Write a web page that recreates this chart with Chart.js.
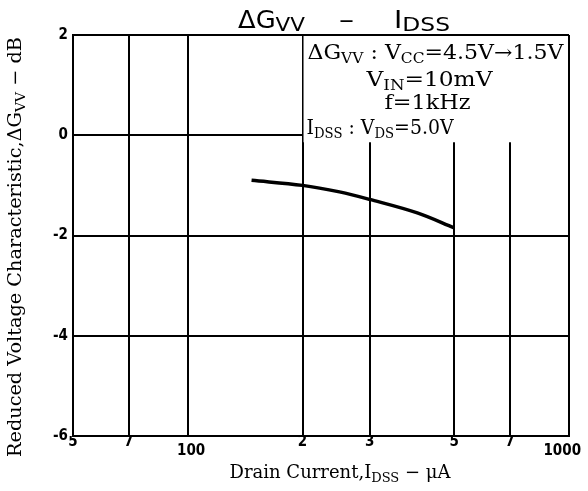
<!DOCTYPE html>
<html><head><meta charset="utf-8">
<script src="https://cdn.jsdelivr.net/npm/chart.js@4.4.1/dist/chart.umd.min.js"></script>
<style>html,body{margin:0;padding:0;background:#fff}canvas{display:block}</style>
</head><body>
<canvas id="c" width="588" height="491"></canvas>
<script>
// ---- data ----
const drainCurrentUA = [147, 200, 250, 300, 400, 500];
const deltaGvvDB     = [-0.9, -1.0, -1.13, -1.28, -1.55, -1.85];
const xTickValues    = [50, 70, 100, 200, 300, 500, 700, 1000];
const xTickLabels    = ['5', '7', '\u2002100', '2', '3', '5', '7', '1000\u2003'];
const xLoweredTicks  = [100, 1000];
const yMin = -6, yMax = 2, yStep = 2;

const SERIF = "'DejaVu Serif','Liberation Serif',serif";
const SANS = "'DejaVu Sans','Liberation Sans',sans-serif";
const TICKFONT = "'Liberation Sans Narrow','DejaVu Sans Condensed','Liberation Sans',sans-serif";

function drawRuns(ctx, runs, x, y, o) {
  ctx.save();
  const f = (sub) => (o.weight || 'normal') + ' ' + (sub ? o.subSize : o.size) + 'px ' + o.family;
  let nat = 0;
  for (const r of runs) { ctx.font = f(r.sub); nat += ctx.measureText(r.t).width; }
  const sx = o.width ? o.width / nat : 1;
  ctx.translate(x, y);
  if (o.rotate) ctx.rotate(o.rotate);
  ctx.scale(sx, 1);
  ctx.textAlign = 'left';
  ctx.textBaseline = 'alphabetic';
  ctx.fillStyle = '#000';
  let cx = o.align === 'center' ? -nat / 2 : 0;
  for (const r of runs) {
    ctx.font = f(r.sub);
    ctx.fillText(r.t, cx, r.sub ? o.subDrop : 0);
    cx += ctx.measureText(r.t).width;
  }
  ctx.restore();
}

const decorations = {
  id: 'decorations',
  afterDraw(chart) {
    const ctx = chart.ctx, xs = chart.scales.x, ys = chart.scales.y, a = chart.chartArea;
    // condition box (white, covers grid)
    const bx = xs.getPixelForValue(200);
    const bBottom = ys.getPixelForValue(-0.14);
    ctx.save();
    ctx.fillStyle = '#fff';
    ctx.fillRect(bx + 1, a.top + 1, a.right - bx - 2, bBottom - a.top - 1);
    ctx.restore();
    const ann = {family: SERIF, size: 20, subSize: 14, subDrop: 4};
    const ann2 = {family: SERIF, size: 21, subSize: 15, subDrop: 4};
    drawRuns(ctx, [{t:'ΔG'},{t:'VV',sub:1},{t:' : V'},{t:'CC',sub:1},{t:'=4.5V→1.5V'}], bx + 5, a.top + 24, Object.assign({width: 256}, ann));
    drawRuns(ctx, [{t:'V'},{t:'IN',sub:1},{t:'=10mV'}], bx + 64, a.top + 51, Object.assign({width: 126}, ann2));
    drawRuns(ctx, [{t:'f=1kHz'}], bx + 82, a.top + 74, Object.assign({width: 86}, ann2));
    drawRuns(ctx, [{t:'I'},{t:'DSS',sub:1},{t:' : V'},{t:'DS',sub:1},{t:'=5.0V'}], bx + 4, a.top + 99, Object.assign({width: 147}, ann));
    // main title
    const tt = {family: SANS, size: 24, subSize: 20, subDrop: 3};
    drawRuns(ctx, [{t:'ΔG'},{t:'VV',sub:1}], 238, 28, Object.assign({width: 67}, tt));
    drawRuns(ctx, [{t:'–'}], 339, 28, Object.assign({width: 15}, tt));
    drawRuns(ctx, [{t:'I'},{t:'DSS',sub:1}], 394, 28, Object.assign({width: 56}, tt));
    // axis titles
    drawRuns(ctx, [{t:'Drain Current,I'},{t:'DSS',sub:1},{t:' − μA'}], 340, 478,
      {family: SERIF, size: 18, subSize: 13, subDrop: 4, align: 'center'});
    drawRuns(ctx, [{t:'Reduced Voltage Characteristic,ΔG'},{t:'VV',sub:1},{t:' − dB'}], 21, 247,
      {family: SERIF, size: 18, subSize: 13, subDrop: 4, align: 'center', rotate: -Math.PI / 2, width: 420});
  }
};

new Chart(document.getElementById('c'), {
  type: 'line',
  data: {
    datasets: [{
      data: drainCurrentUA.map((v, i) => ({x: v, y: deltaGvvDB[i]})),
      borderColor: '#000',
      borderWidth: 3.5,
      pointRadius: 0,
      tension: 0.35,
      fill: false
    }]
  },
  options: {
    responsive: false,
    animation: false,
    devicePixelRatio: 1,
    layout: {padding: {top: 35, right: 19, bottom: 0, left: 0}},
    plugins: {legend: {display: false}, title: {display: false}, tooltip: {enabled: false}},
    scales: {
      x: {
        type: 'logarithmic',
        min: 50, max: 1000,
        afterBuildTicks: (s) => { s.ticks = xTickValues.map(v => ({value: v})); },
        afterFit: (s) => { s.height = 55; s.paddingRight = 10; s.paddingLeft = 5; },
        grid: {color: '#000', lineWidth: 2, drawTicks: false},
        border: {display: true, color: '#000', width: 2},
        ticks: {
          autoSkip: false, maxRotation: 0, padding: 2,
          color: '#000',
          font: {family: TICKFONT, size: 15, weight: 'bold', lineHeight: 0.6},
          callback: (v) => {
            const i = xTickValues.indexOf(v);
            const l = i >= 0 ? xTickLabels[i] : '';
            return xLoweredTicks.includes(v) ? ['', l] : l;
          }
        }
      },
      y: {
        min: yMin, max: yMax,
        afterFit: (s) => { s.width = 73; },
        grid: {color: '#000', lineWidth: 2, drawTicks: false},
        border: {display: true, color: '#000', width: 2},
        ticks: {
          stepSize: yStep, padding: 5, color: '#000',
          font: {family: TICKFONT, size: 15, weight: 'bold'},
          callback: (v) => String(v)
        }
      }
    }
  },
  plugins: [decorations]
});
</script>
</body></html>
